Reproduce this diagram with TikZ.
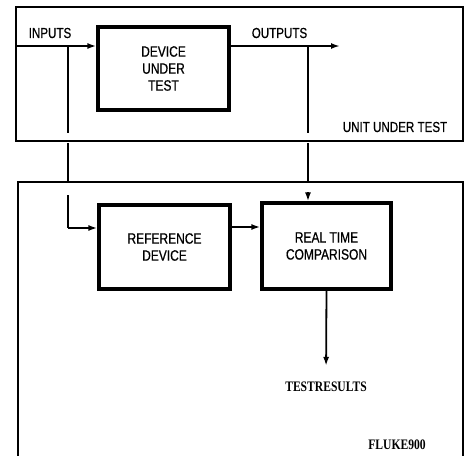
\documentclass[tikz,border=0pt]{standalone}
\usepackage{fontspec}
\usetikzlibrary{arrows.meta}
\newfontfamily\labelfont[FakeStretch=0.8, FakeBold=0.6]{Liberation Sans}
\newfontfamily\notefont[FakeStretch=0.8]{Liberation Serif}
\tikzset{
    blockbox/.style={draw, line width=3.2pt, minimum width=#1, inner sep=0pt, align=center,
        font=\labelfont\fontsize{15}{17}\selectfont},
    wire/.style={line width=1.8pt},
    arrowwire/.style={line width=1.8pt, -{Latex[length=9pt,width=6pt]}},
    tag/.style={inner sep=0pt, font=\labelfont\fontsize{14.5}{17}\selectfont},
    note/.style={inner sep=0pt, font=\notefont\bfseries\fontsize{14.5}{17}\selectfont}
}
\begin{document}
\begin{tikzpicture}[x=1pt, y=-1pt]
        \useasboundingbox (0, 0) rectangle (467, 456);
        % the two outer frames
        \draw[line width=2pt] (16, 7) rectangle (463, 141);
        \draw[line width=2.6pt] (18, 462) -- (18, 182) -- (463, 182) -- (463, 462);
        % blocks
        \node[blockbox=131pt, minimum height=83pt] (dut) at (163.5, 68.5) {DEVICE\\UNDER\\TEST};
        \node[blockbox=131pt, minimum height=84pt] (ref) at (164.5, 247) {REFERENCE\\DEVICE};
        \node[blockbox=129pt, minimum height=86pt] (rtc) at (326.5, 246) {REAL TIME\\COMPARISON};
        % labels
        \node[tag] (inputs) at (50, 33) {INPUTS};
        \node[tag] (outputs) at (279.5, 33) {OUTPUTS};
        \node[tag] (uut) at (395, 127) {UNIT UNDER TEST};
        \node[note] (res) at (326, 387) {TESTRESULTS};
        \node[note] (fluke) at (397, 445) {FLUKE900};
        % end points of the wires
        \coordinate (in) at (16, 46);
        \coordinate (out) at (340, 46);
        \coordinate (tapin) at (68, 46);
        \coordinate (tapout) at (308, 46);
        \coordinate (refin) at (68, 228);
        \coordinate (cmp) at (230, 227);
        % wires in the unit under test
        \draw[arrowwire] (in) -- (in -| dut.west);
        \draw[arrowwire] (dut.east |- out) -- (out);
        \draw[wire] (tapin) -- (68, 133);
        \draw[wire] (tapout) -- (308, 133);
        % wires between the frames
        \draw[wire] (68, 143) -- (68, 182);
        \draw[wire] (308, 143) -- (308, 182);
        % wires in the tester
        \draw[wire] (68, 195) -- (refin);
        \draw[arrowwire] (refin) -- (refin -| ref.west);
        \draw[arrowwire] (cmp) -- (cmp -| rtc.west);
        \draw[arrowwire] (308, 192) -- (rtc.north -| tapout);
        \draw[arrowwire, shorten >=16pt] (rtc.south) -- (res.north);
    \end{tikzpicture}
\end{document}
